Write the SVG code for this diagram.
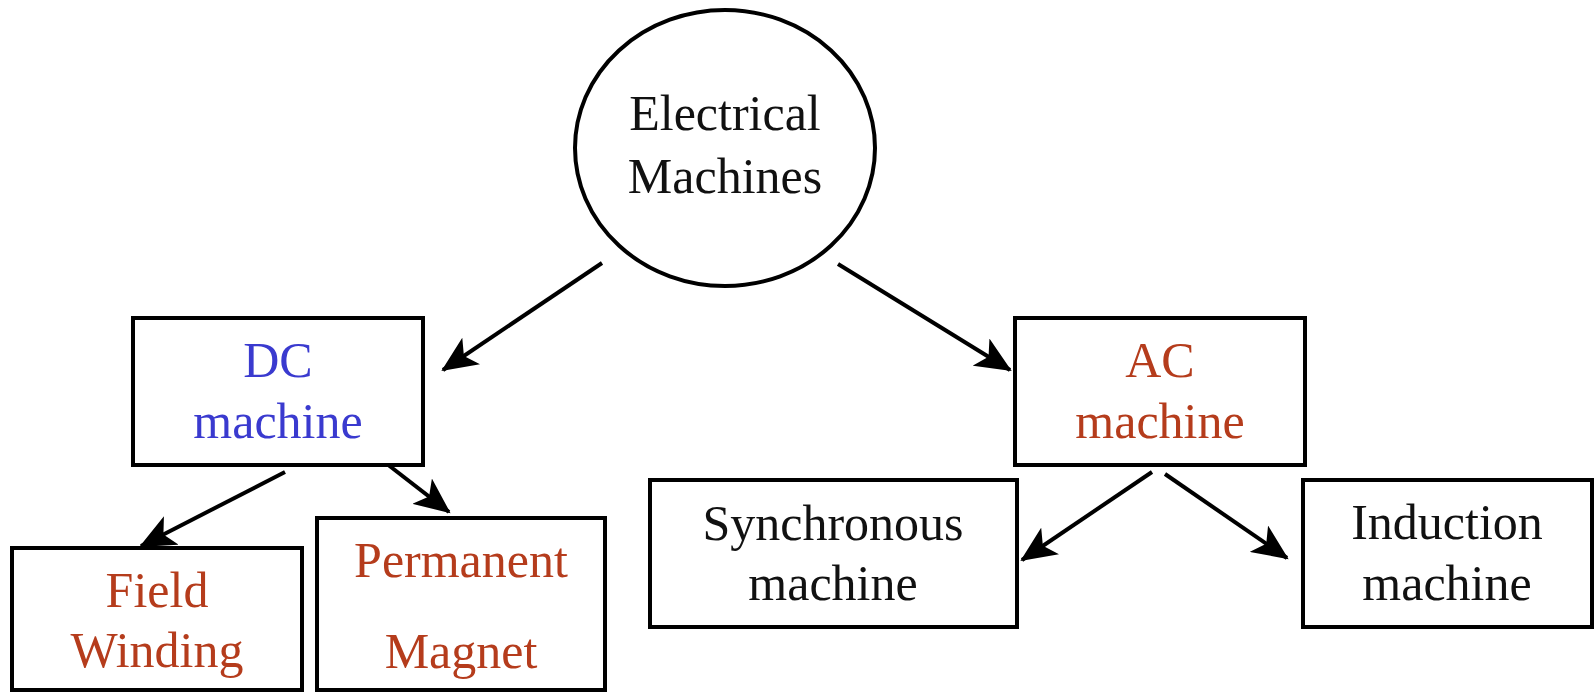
<svg xmlns="http://www.w3.org/2000/svg" width="1594" height="694" viewBox="0 0 1594 694">
<style>
.box{fill:#fff;stroke:#000;stroke-width:4}
.t{font-family:"Liberation Serif","Times New Roman",serif;font-size:50px;text-anchor:middle}
.k{fill:#111}
.b{fill:#3a3acf}
.r{fill:#b53c1c}
.c{stroke:#000;stroke-width:4;fill:none;marker-end:url(#ah)}
</style>
<defs>
<marker id="ah" markerWidth="10" markerHeight="8" refX="8.5" refY="4" orient="auto" markerUnits="strokeWidth">
<path d="M0,0 L9,4 L0,8 L2.2,4 Z" fill="#000"/>
</marker>
</defs>
<rect width="1594" height="694" fill="#fff"/>
<g id="connectors">
<line class="c" x1="602" y1="263" x2="443" y2="370"/>
<line class="c" x1="838" y1="264" x2="1010" y2="370"/>
<line class="c" x1="285" y1="472" x2="141" y2="546"/>
<line class="c" x1="378" y1="457" x2="449" y2="512"/>
<line class="c" x1="1152" y1="472" x2="1022" y2="560"/>
<line class="c" x1="1165" y1="474" x2="1287" y2="558"/>
</g>
<g id="electrical-machines">
<ellipse cx="725" cy="148" rx="150" ry="138" fill="#fff" stroke="#000" stroke-width="4"/>
<text class="t k" x="725" y="130">Electrical</text>
<text class="t k" x="725" y="193">Machines</text>
</g>
<g id="dc-machine">
<rect class="box" x="133" y="318" width="290" height="147"/>
<text class="t b" x="278" y="377">DC</text>
<text class="t b" x="278" y="438">machine</text>
</g>
<g id="ac-machine">
<rect class="box" x="1015" y="318" width="290" height="147"/>
<text class="t r" x="1160" y="377">AC</text>
<text class="t r" x="1160" y="438">machine</text>
</g>
<g id="field-winding">
<rect class="box" x="12" y="548" width="290" height="142"/>
<text class="t r" x="157" y="607">Field</text>
<text class="t r" x="157" y="667">Winding</text>
</g>
<g id="permanent-magnet">
<rect class="box" x="317" y="518" width="288" height="172"/>
<text class="t r" x="461" y="577">Permanent</text>
<text class="t r" x="461" y="668">Magnet</text>
</g>
<g id="synchronous-machine">
<rect class="box" x="650" y="480" width="367" height="147"/>
<text class="t k" x="833" y="540">Synchronous</text>
<text class="t k" x="833" y="600">machine</text>
</g>
<g id="induction-machine">
<rect class="box" x="1303" y="480" width="289" height="147"/>
<text class="t k" x="1447" y="539">Induction</text>
<text class="t k" x="1447" y="600">machine</text>
</g>
</svg>
